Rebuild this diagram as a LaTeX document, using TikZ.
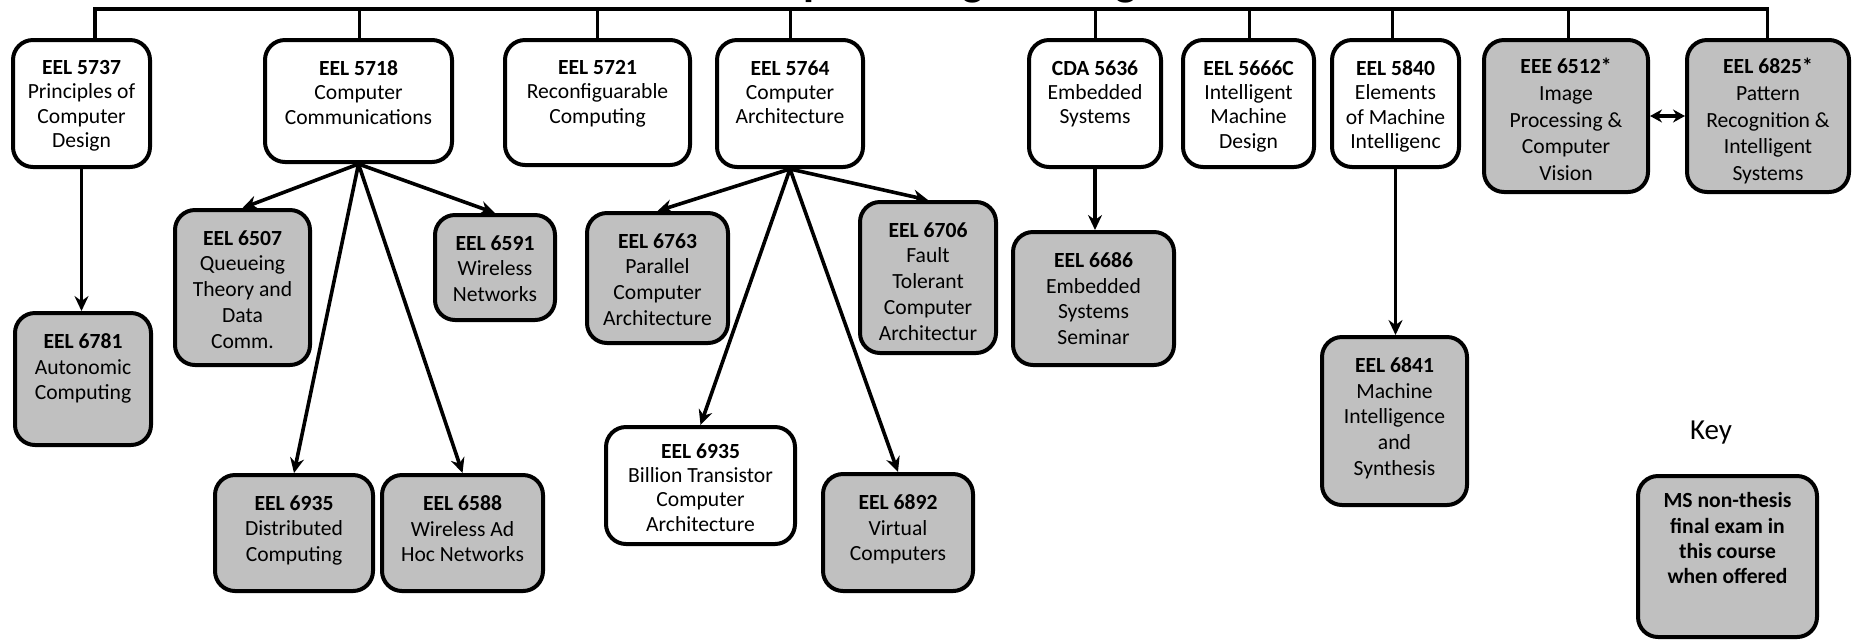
\documentclass[tikz,border=0pt]{standalone}
\usepackage{fontspec}
\setmainfont{Carlito}
\usetikzlibrary{arrows.meta}
\definecolor{boxgray}{RGB}{192,192,192}
\tikzset{
  course/.style={draw=black, line width=2pt, rounded corners=10pt, inner sep=0pt, fill=white},
  elective/.style={course, fill=boxgray},
  ctext/.style={anchor=north, align=center, inner sep=0pt, font=\fontsize{10.8}{12.9}\selectfont},
  body/.style={ctext, yshift=-11pt},
  tightbody/.style={ctext, yshift=-11pt, font=\fontsize{10.8}{12.2}\selectfont},
  widebody/.style={ctext, yshift=-10pt, font=\fontsize{10.8}{13.3}\selectfont},
  keybody/.style={ctext, yshift=-9.2pt, font=\fontsize{10.8}{12.6}\selectfont\bfseries},
  heading/.style={anchor=base, inner sep=0pt, font=\fontsize{22.5}{27}\selectfont\bfseries},
  keylabel/.style={inner sep=0pt, font=\fontsize{14.5}{17}\selectfont},
  trunk/.style={line width=1.6pt, line join=miter},
  drop/.style={line width=1.5pt},
  prereq/.style={line width=1.8pt, -{Stealth[length=7.5pt,width=7pt,inset=2.5pt]}},
  pair/.style={line width=1.8pt, {Stealth[length=6pt,width=6.5pt,inset=2pt]}-{Stealth[length=6pt,width=6.5pt,inset=2pt]}},
}
\begin{document}
\begin{tikzpicture}[x=0.5pt,y=-0.5pt]
\clip (0,0) rectangle (1852,639);

% heading (only its lower edge falls inside the page)
\node[heading] (title) at (928,-5) {Computer Engineering};

% core courses
\node[course, minimum width=68.5pt, minimum height=63.5pt] (c5737) at (81.5,103.5) {};
\node[tightbody] (t5737) at (c5737.north) {\textbf{EEL 5737}\\Principles of\\Computer\\Design};
\node[course, minimum width=93.5pt, minimum height=61pt] (c5718) at (358.5,101) {};
\node[tightbody] (t5718) at (c5718.north) {\textbf{EEL 5718}\\Computer\\Communications};
\node[course, minimum width=92.5pt, minimum height=62.5pt] (c5721) at (597.5,102.5) {};
\node[tightbody] (t5721) at (c5721.north) {\textbf{EEL 5721}\\Reconfiguarable\\Computing};
\node[course, minimum width=73pt, minimum height=63.5pt] (c5764) at (790,103.5) {};
\node[tightbody] (t5764) at (c5764.north) {\textbf{EEL 5764}\\Computer\\Architecture};
\node[course, minimum width=66pt, minimum height=63.5pt] (a5636) at (1095,103.5) {};
\node[tightbody] (t5636) at (a5636.north) {\textbf{CDA 5636}\\Embedded\\Systems};
\node[course, minimum width=65.5pt, minimum height=63.5pt] (c5666) at (1248.5,103.5) {};
\node[tightbody] (t5666) at (c5666.north) {\textbf{EEL 5666C}\\Intelligent\\Machine\\Design};
\node[course, minimum width=63.5pt, minimum height=63.5pt] (c5840) at (1395.5,103.5) {};
\node[tightbody] (t5840) at (c5840.north) {\textbf{EEL 5840}\\Elements\\of Machine\\Intelligenc};
\node[elective, minimum width=82pt, minimum height=76pt] (e6512) at (1566,116) {};
\node[widebody] (t6512) at (e6512.north) {\textbf{EEE 6512*}\\Image\\Processing \&\\Computer\\Vision};
\node[elective, minimum width=81pt, minimum height=76pt] (e6825) at (1768,116) {};
\node[widebody] (t6825) at (e6825.north) {\textbf{EEL 6825*}\\Pattern\\Recognition \&\\Intelligent\\Systems};

% follow-on courses
\node[elective, minimum width=68pt, minimum height=66pt] (c6781) at (83,379) {};
\node[body] (t6781) at (c6781.north) {\textbf{EEL 6781}\\Autonomic\\Computing};
\node[elective, minimum width=67.5pt, minimum height=77.5pt] (c6507) at (242.5,287.5) {};
\node[body] (t6507) at (c6507.north) {\textbf{EEL 6507}\\Queueing\\Theory and\\Data\\Comm.};
\node[elective, minimum width=60pt, minimum height=52.5pt] (c6591) at (495,267.5) {};
\node[body] (t6591) at (c6591.north) {\textbf{EEL 6591}\\Wireless\\Networks};
\node[elective, minimum width=79pt, minimum height=58pt] (d6935) at (294,533) {};
\node[body] (td6935) at (d6935.north) {\textbf{EEL 6935}\\Distributed\\Computing};
\node[elective, minimum width=80.5pt, minimum height=58pt] (c6588) at (462.5,533) {};
\node[body] (t6588) at (c6588.north) {\textbf{EEL 6588}\\Wireless Ad\\Hoc Networks};
\node[elective, minimum width=70.5pt, minimum height=65pt] (c6763) at (657.5,278) {};
\node[body] (t6763) at (c6763.north) {\textbf{EEL 6763}\\Parallel\\Computer\\Architecture};
\node[elective, minimum width=68pt, minimum height=75.5pt] (c6706) at (928,277.5) {};
\node[body] (t6706) at (c6706.north) {\textbf{EEL 6706}\\Fault\\Tolerant\\Computer\\Architectur};
\node[course, minimum width=94.5pt, minimum height=58.5pt] (b6935) at (700.5,485.5) {};
\node[tightbody, yshift=2pt] (tb6935) at (b6935.north) {\textbf{EEL 6935}\\Billion Transistor\\Computer\\Architecture};
\node[elective, minimum width=75pt, minimum height=58.5pt] (c6892) at (898,532.5) {};
\node[body] (t6892) at (c6892.north) {\textbf{EEL 6892}\\Virtual\\Computers};
\node[elective, minimum width=80.5pt, minimum height=66.5pt] (c6686) at (1093.5,298.5) {};
\node[body] (t6686) at (c6686.north) {\textbf{EEL 6686}\\Embedded\\Systems\\Seminar};
\node[elective, minimum width=72.5pt, minimum height=84pt] (c6841) at (1394.5,421) {};
\node[body] (t6841) at (c6841.north) {\textbf{EEL 6841}\\Machine\\Intelligence\\and\\Synthesis};

% key
\node[keylabel] (keyhead) at (1711,433) {Key};
\node[elective, minimum width=89.5pt, minimum height=80.5pt] (keybox) at (1727.5,556.5) {};
\node[keybody] (tkey) at (keybox.north) {MS non-thesis\\final exam in\\this course\\when offered};

% trunk line and drops to the core courses
\coordinate (d1) at (95,9);
\coordinate (d2) at (359,9);
\coordinate (d3) at (597.5,9);
\coordinate (d4) at (790,9);
\coordinate (d5) at (1095.5,9);
\coordinate (d6) at (1249,9);
\coordinate (d7) at (1392.5,9);
\coordinate (d8) at (1568,9);
\coordinate (d9) at (1767.5,9);
\draw[trunk] (d1 |- c5737.north) -- (d1) -- (d9) -- (d9 |- e6825.north);
\draw[drop] (d2) -- (d2 |- c5718.north);
\draw[drop] (d3) -- (d3 |- c5721.north);
\draw[drop] (d4) -- (d4 |- c5764.north);
\draw[drop] (d5) -- (d5 |- a5636.north);
\draw[drop] (d6) -- (d6 |- c5666.north);
\draw[drop] (d7) -- (d7 |- c5840.north);
\draw[drop] (d8) -- (d8 |- e6512.north);

% prerequisite arrows
\draw[prereq] (c5737.south) -- (c5737.south |- c6781.north);
\draw[prereq] (c5718.south) -- (c6507.north);
\draw[prereq] (c5718.south) -- (c6591.north);
\draw[prereq] (c5718.south) -- (d6935.north);
\draw[prereq] (c5718.south) -- (c6588.north);
\draw[prereq] (c5764.south) -- (c6763.north);
\draw[prereq] (c5764.south) -- (c6706.north);
\draw[prereq] (c5764.south) -- (b6935.north);
\draw[prereq] (c5764.south) -- (c6892.north);
\draw[prereq] (a5636.south) -- (a5636.south |- c6686.north);
\draw[prereq] (c5840.south) -- (c5840.south |- c6841.north);
\draw[pair] (e6512.east) -- (e6825.west);
\end{tikzpicture}
\end{document}
